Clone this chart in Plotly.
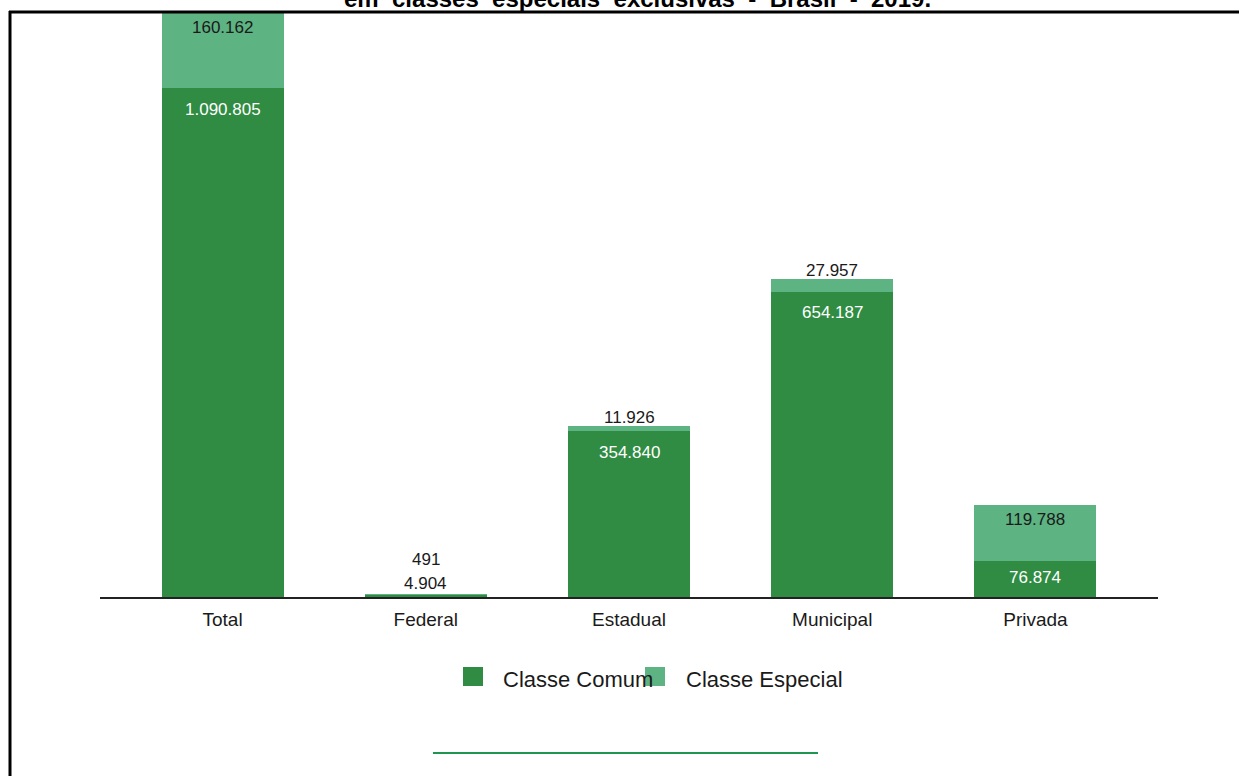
import plotly.graph_objects as go

# Matrículas da educação especial por dependência administrativa - Brasil - 2019
categorias = ["Total", "Federal", "Estadual", "Municipal", "Privada"]
classe_comum = [1090805, 4904, 354840, 654187, 76874]
classe_especial = [160162, 491, 11926, 27957, 119788]
series_nomes = ["Classe Comum", "Classe Especial"]
titulo = "em classes especiais exclusivas - Brasil - 2019."

W, H = 1239, 776
ML, MR, MT, MB = 100, 81, 12, 179
plot_w = W - ML - MR
plot_h = H - MT - MB
Y_MAX = 1254000
px_por_un = plot_h / Y_MAX

COR_COMUM = "#2F8C42"
COR_ESPECIAL = "#5DB382"
COR_TEXTO = "#1a1a1a"
FONTE = "Liberation Sans, Arial, sans-serif"


def fmt(v):
    return f"{v:,}".replace(",", ".")


def xp(px):
    return (px - ML) / plot_w


def yp(py):
    return (H - MB - py) / plot_h


fig = go.Figure()
fig.add_bar(x=categorias, y=classe_comum, name=series_nomes[0],
            marker=dict(color=COR_COMUM, line=dict(width=0)), showlegend=False)
fig.add_bar(x=categorias, y=classe_especial, name=series_nomes[1],
            marker=dict(color=COR_ESPECIAL, line=dict(width=0)), showlegend=False)

anotacoes = []
for cat, c, e in zip(categorias, classe_comum, classe_especial):
    c_px = c * px_por_un
    e_px = e * px_por_un
    comum_dentro = c_px >= 30
    if comum_dentro:
        anotacoes.append(dict(x=cat, y=c, text=fmt(c), showarrow=False,
                              yanchor="middle", yshift=-min(21, c_px / 2 - 2),
                              font=dict(color="white", size=17, family=FONTE)))
    else:
        anotacoes.append(dict(x=cat, y=c + e, text=fmt(c), showarrow=False,
                              yanchor="middle", yshift=11,
                              font=dict(color=COR_TEXTO, size=17, family=FONTE)))
    if e_px >= 30:
        anotacoes.append(dict(x=cat, y=c + e, text=fmt(e), showarrow=False,
                              yanchor="middle", yshift=-14,
                              font=dict(color=COR_TEXTO, size=17, family=FONTE)))
    else:
        anotacoes.append(dict(x=cat, y=c + e, text=fmt(e), showarrow=False,
                              yanchor="middle", yshift=8 if comum_dentro else 35,
                              font=dict(color=COR_TEXTO, size=17, family=FONTE)))

# título (última linha, parcialmente cortada no topo), com espaçamento largo entre palavras
titulo_espacado = titulo.replace(" ", "&nbsp;&nbsp;")
anotacoes.append(dict(xref="paper", yref="paper", x=xp(637), y=1, yshift=-2,
                      xanchor="center", yanchor="bottom", text=f"<b>{titulo_espacado}</b>",
                      showarrow=False, font=dict(color="black", size=24, family=FONTE)))

# legenda desenhada manualmente
legenda = [(463, 501, COR_COMUM, series_nomes[0]), (645, 684, COR_ESPECIAL, series_nomes[1])]
formas = []
for x_q, x_t, cor, nome in legenda:
    formas.append(dict(type="rect", xref="paper", yref="paper",
                       x0=xp(x_q), x1=xp(x_q + 20), y0=yp(686), y1=yp(667),
                       fillcolor=cor, line=dict(width=0)))
    anotacoes.append(dict(xref="paper", yref="paper", x=xp(x_t), y=yp(679),
                          xanchor="left", yanchor="middle", text=nome, showarrow=False,
                          font=dict(color=COR_TEXTO, size=22, family=FONTE)))

# moldura e linha decorativa
formas.append(dict(type="line", xref="paper", yref="paper",
                   x0=xp(9), x1=xp(1260), y0=yp(12), y1=yp(12),
                   line=dict(color="black", width=3)))
formas.append(dict(type="line", xref="paper", yref="paper",
                   x0=xp(10), x1=xp(10), y0=yp(11), y1=yp(800),
                   line=dict(color="black", width=3)))
formas.append(dict(type="line", xref="paper", yref="paper",
                   x0=xp(433), x1=xp(818), y0=yp(753), y1=yp(753),
                   line=dict(color="#1E9650", width=2)))

fig.update_layout(
    width=W, height=H,
    margin=dict(l=ML, r=MR, t=MT, b=MB, autoexpand=False),
    barmode="stack", bargap=0.4,
    plot_bgcolor="white", paper_bgcolor="white",
    annotations=anotacoes, shapes=formas,
    showlegend=False,
)
fig.update_xaxes(range=[-0.603, 4.603], showline=True, linecolor="#222222", linewidth=2,
                 ticks="", showgrid=False, ticklabelstandoff=4,
                 tickfont=dict(size=19, color=COR_TEXTO, family=FONTE))
fig.update_yaxes(range=[0, Y_MAX], visible=False, showgrid=False, zeroline=False)

fig.write_html("out.html")
